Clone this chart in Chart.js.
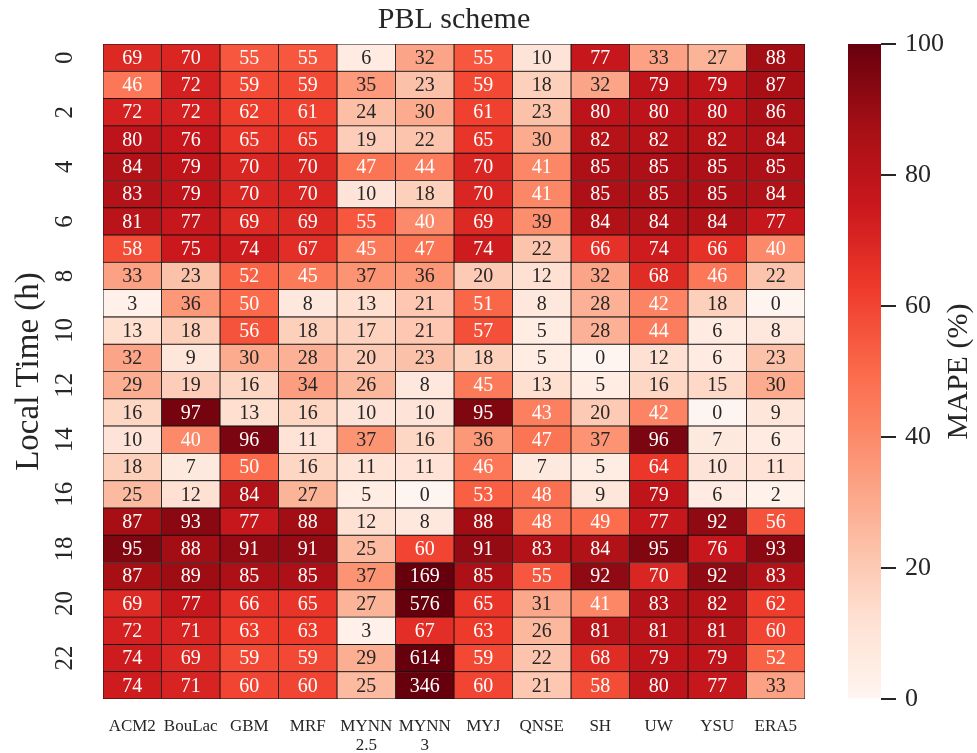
<!DOCTYPE html>
<html>
<head>
<meta charset="utf-8">
<title>PBL scheme MAPE</title>
<script src="https://cdn.jsdelivr.net/npm/chart.js@4.4.0/dist/chart.umd.min.js"></script>
<style>
html, body { margin: 0; padding: 0; background: #fff; }
#wrap { position: relative; width: 977px; height: 753px; }
#wrap canvas { position: absolute; left: 0; top: 0; }
</style>
</head>
<body>
<div id="wrap">
  <canvas id="heat" width="977" height="753"></canvas>
  <canvas id="cbar" width="977" height="753"></canvas>
</div>
<script>
// hours on the y axis (local time)
var hours = ['0','1','2','3','4','5','6','7','8','9','10','11','12','13','14','15','16','17','18','19','20','21','22','23'];

// PBL schemes on the x axis
var schemes = ['ACM2', 'BouLac', 'GBM', 'MRF', ['MYNN', '2.5'], ['MYNN', '3'], 'MYJ', 'QNSE', 'SH', 'UW', 'YSU', 'ERA5'];

// MAPE (%) per scheme, one value per hour 0..23
var acm2   = [69,46,72,80,84,83,81,58,33,3,13,32,29,16,10,18,25,87,95,87,69,72,74,74];
var boulac = [70,72,72,76,79,79,77,75,23,36,18,9,19,97,40,7,12,93,88,89,77,71,69,71];
var gbm    = [55,59,62,65,70,70,69,74,52,50,56,30,16,13,96,50,84,77,91,85,66,63,59,60];
var mrf    = [55,59,61,65,70,70,69,67,45,8,18,28,34,16,11,16,27,88,91,85,65,63,59,60];
var mynn25 = [6,35,24,19,47,10,55,45,37,13,17,20,26,10,37,11,5,12,25,37,27,3,29,25];
var mynn3  = [32,23,30,22,44,18,40,47,36,21,21,23,8,10,16,11,0,8,60,169,576,67,614,346];
var myj    = [55,59,61,65,70,70,69,74,20,51,57,18,45,95,36,46,53,88,91,85,65,63,59,60];
var qnse   = [10,18,23,30,41,41,39,22,12,8,5,5,13,43,47,7,48,48,83,55,31,26,22,21];
var sh     = [77,32,80,82,85,85,84,66,32,28,28,0,5,20,37,5,9,49,84,92,41,81,68,58];
var uw     = [33,79,80,82,85,85,84,74,68,42,44,12,16,42,96,64,79,77,95,70,83,81,79,80];
var ysu    = [27,79,80,82,85,85,84,66,46,18,6,6,15,0,7,10,6,92,76,92,82,81,79,77];
var era5   = [88,87,86,84,85,84,77,40,22,0,8,23,30,9,6,11,2,56,93,83,62,60,52,33];

var series = [acm2, boulac, gbm, mrf, mynn25, mynn3, myj, qnse, sh, uw, ysu, era5];

// colour scale limits and colorbar ticks
var vmin = 0, vmax = 100;
var cbTicks = [0, 20, 40, 60, 80, 100];

var serif = '"Liberation Serif", "DejaVu Serif", serif';
var ink = '#262626';

// matplotlib "Reds"
var reds = ['#fff5f0','#fee0d2','#fcbba1','#fc9272','#fb6a4a','#ef3b2c','#cb181d','#a50f15','#67000d'];

function hexRgb(h) {
  return [parseInt(h.substr(1,2),16), parseInt(h.substr(3,2),16), parseInt(h.substr(5,2),16)];
}
var redsRgb = reds.map(hexRgb);

function redsAt(v) {
  var t = (v - vmin) / (vmax - vmin);
  t = Math.max(0, Math.min(1, t));
  var pos = t * (redsRgb.length - 1);
  var i = Math.min(Math.floor(pos), redsRgb.length - 2);
  var f = pos - i;
  var a = redsRgb[i], b = redsRgb[i+1];
  return [0,1,2].map(function(k){ return a[k] + (b[k]-a[k]) * f; });
}
function rgbStr(c) {
  return 'rgb(' + Math.round(c[0]) + ',' + Math.round(c[1]) + ',' + Math.round(c[2]) + ')';
}
// same rule as seaborn annotations: dark text on light cells
function textColor(v) {
  var c = redsAt(v).map(function(x){
    x = x / 255;
    return x <= 0.03928 ? x / 12.92 : Math.pow((x + 0.055) / 1.055, 2.4);
  });
  var lum = 0.2126*c[0] + 0.7152*c[1] + 0.0722*c[2];
  return lum > 0.408 ? ink : '#ffffff';
}

// numbers in the cells
var cellText = {
  id: 'cellText',
  afterDatasetsDraw: function(chart) {
    var ctx = chart.ctx;
    ctx.save();
    ctx.font = '20px ' + serif;
    ctx.textAlign = 'center';
    ctx.textBaseline = 'middle';
    chart.data.datasets.forEach(function(ds, c) {
      chart.getDatasetMeta(c).data.forEach(function(bar, r) {
        var v = series[c][r];
        var p = bar.getCenterPoint();
        ctx.fillStyle = textColor(v);
        ctx.fillText(String(v), p.x, p.y + 1);
      });
    });
    ctx.restore();
  }
};

var heatSets = series.map(function(vals, c) {
  return {
    label: Array.isArray(schemes[c]) ? schemes[c].join(' ') : schemes[c],
    data: vals.map(function(){ return [c, c + 1]; }),
    backgroundColor: vals.map(function(v){ return rgbStr(redsAt(v)); }),
    borderColor: '#111111',
    borderWidth: 0.8,
    borderSkipped: false,
    barPercentage: 1,
    categoryPercentage: 1,
    grouped: false
  };
});

var heat = new Chart(document.getElementById('heat'), {
  type: 'bar',
  data: { labels: hours, datasets: heatSets },
  options: {
    indexAxis: 'y',
    responsive: false,
    animation: false,
    layout: { padding: { left: 0, right: 172, top: 0, bottom: 0 } },
    plugins: {
      legend: { display: false },
      tooltip: { enabled: false },
      title: {
        display: true,
        text: 'PBL scheme',
        fullSize: false,
        color: ink,
        font: { family: serif, size: 30, weight: 'normal', lineHeight: 1.2 },
        padding: { top: 2, bottom: 6 }
      }
    },
    scales: {
      x: {
        type: 'linear',
        position: 'bottom',
        min: 0,
        max: schemes.length,
        afterBuildTicks: function(scale) {
          scale.ticks = schemes.map(function(s, i){ return { value: i + 0.5 }; });
        },
        afterFit: function(scale) { scale.height = 54; },
        grid: { display: false, drawTicks: false },
        border: { display: false },
        ticks: {
          autoSkip: false,
          minRotation: 0,
          maxRotation: 0,
          padding: 18,
          color: ink,
          font: { family: serif, size: 17, lineHeight: 1.1 },
          callback: function(value, index) { return schemes[index]; }
        }
      },
      y: {
        type: 'category',
        position: 'left',
        afterFit: function(scale) { scale.width = 103; },
        grid: { display: false, drawTicks: false },
        border: { display: false },
        title: {
          display: true,
          text: 'Local Time (h)',
          color: ink,
          font: { family: serif, size: 33, lineHeight: 1.2 },
          padding: { top: 10, bottom: 0 }
        },
        ticks: {
          autoSkip: false,
          minRotation: 90,
          maxRotation: 90,
          crossAlign: 'center',
          padding: 25,
          color: ink,
          font: { family: serif, size: 25 },
          callback: function(value, index) { return index % 2 === 0 ? hours[index] : ''; }
        }
      }
    }
  },
  plugins: [cellText]
});

// colorbar label, rotated to read upward
var cbTitle = {
  id: 'cbTitle',
  afterDraw: function(chart) {
    var s = chart.scales.y;
    var ctx = chart.ctx;
    ctx.save();
    ctx.translate(s.right - 18, (s.top + s.bottom) / 2);
    ctx.rotate(-Math.PI / 2);
    ctx.font = '30px ' + serif;
    ctx.fillStyle = ink;
    ctx.textAlign = 'center';
    ctx.textBaseline = 'middle';
    ctx.fillText('MAPE (%)', 0, 0);
    ctx.restore();
  }
};

var cbar = new Chart(document.getElementById('cbar'), {
  type: 'bar',
  data: {
    labels: ['MAPE'],
    datasets: [{
      data: [[vmin, vmax]],
      backgroundColor: function(context) {
        var ca = context.chart.chartArea;
        if (!ca) return reds[4];
        var g = context.chart.ctx.createLinearGradient(0, ca.bottom, 0, ca.top);
        reds.forEach(function(c, i){ g.addColorStop(i / (reds.length - 1), c); });
        return g;
      },
      borderWidth: 0,
      barPercentage: 1,
      categoryPercentage: 1
    }]
  },
  options: {
    responsive: false,
    animation: false,
    layout: { padding: { left: 848, right: 0, top: 44, bottom: 54 } },
    plugins: { legend: { display: false }, tooltip: { enabled: false } },
    scales: {
      x: { display: false },
      y: {
        position: 'right',
        min: vmin,
        max: vmax,
        afterBuildTicks: function(scale) {
          scale.ticks = cbTicks.map(function(v){ return { value: v }; });
        },
        afterFit: function(scale) { scale.width = 96; },
        border: { display: false },
        grid: { drawOnChartArea: false, drawTicks: true, tickLength: 15, color: ink, lineWidth: 2 },
        ticks: { padding: 9, color: ink, font: { family: serif, size: 26 } }
      }
    }
  },
  plugins: [cbTitle]
});
</script>
</body>
</html>
